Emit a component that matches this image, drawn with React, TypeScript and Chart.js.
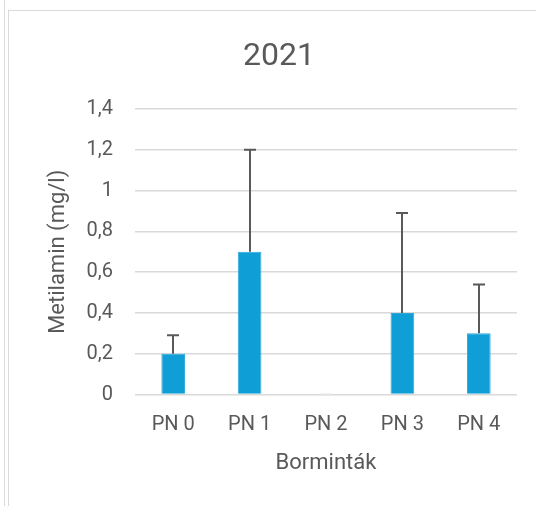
import React, { useEffect, useRef } from "react";
import { Chart, registerables } from "chart.js";

Chart.register(...registerables);

const categories = ["PN 0", "PN 1", "PN 2", "PN 3", "PN 4"];
const values = [0.2, 0.7, 0, 0.4, 0.3];
const errorPlus = [0.09, 0.5, 0, 0.49, 0.24];
const chartTitle = "2021";
const yTitle = "Metilamin (mg/l)";
const xTitle = "Borminták";

const FONT = "Roboto, 'Open Sans', sans-serif";
const TEXT = "#595959";

const errorBarPlugin = {
  id: "errorBars",
  afterDatasetsDraw(chart: any) {
    const meta = chart.getDatasetMeta(0);
    const yScale = chart.scales.y;
    const ctx = chart.ctx;
    ctx.save();
    ctx.lineWidth = 2;
    meta.data.forEach((bar: any, i: number) => {
      const x = Math.round(bar.x);
      const y0 = yScale.getPixelForValue(values[i]);
      const y1 = yScale.getPixelForValue(values[i] + errorPlus[i]);
      ctx.strokeStyle = errorPlus[i] > 0 ? "#595959" : "#e4e4e4";
      ctx.beginPath();
      ctx.moveTo(x, y0);
      ctx.lineTo(x, y1);
      ctx.moveTo(x - 6, y1);
      ctx.lineTo(x + 6, y1);
      ctx.stroke();
    });
    ctx.restore();
  },
};

export default function App() {
  const ref = useRef<HTMLCanvasElement | null>(null);
  useEffect(() => {
    if (!ref.current) return;
    const chart = new Chart(ref.current, {
      type: "bar",
      data: {
        labels: categories,
        datasets: [
          {
            data: values,
            backgroundColor: "#0F9ED5",
            borderColor: "#2BA8DC",
            borderWidth: 1,
            categoryPercentage: 1,
            barPercentage: 0.31,
          },
        ],
      },
      options: {
        animation: false,
        responsive: false,
        layout: { padding: { left: 41, right: 19, top: 38, bottom: 25 } },
        plugins: {
          legend: { display: false },
          tooltip: { enabled: false },
          title: {
            display: true,
            text: chartTitle,
            color: TEXT,
            font: { family: FONT, size: 32, weight: "normal" },
            padding: { top: 0, bottom: 32.6 },
          },
        },
        scales: {
          x: {
            grid: { display: false, drawTicks: false },
            border: { display: false },
            ticks: {
              color: TEXT,
              font: { family: FONT, size: 20 },
              padding: 18,
            },
            title: {
              display: true,
              text: xTitle,
              color: TEXT,
              font: { family: FONT, size: 22 },
              padding: { top: 4, bottom: 4 },
            },
            afterFit: (s: any) => {
              s.height = 86.5;
            },
          },
          y: {
            min: 0,
            max: 1.4,
            grid: { color: "#d9d9d9", lineWidth: 1.5, drawTicks: false },
            border: { display: false },
            ticks: {
              stepSize: 0.2,
              color: TEXT,
              font: { family: FONT, size: 20 },
              padding: 22,
              callback: (v: any) => {
                const n = Math.round(Number(v) * 10) / 10;
                return String(n).replace(".", ",");
              },
            },
            title: {
              display: true,
              text: yTitle,
              color: TEXT,
              font: { family: FONT, size: 22 },
              padding: { top: 4, bottom: 4 },
            },
            afterFit: (s: any) => {
              s.width = 94;
            },
          },
        },
      },
      plugins: [errorBarPlugin],
    });
    return () => chart.destroy();
  }, []);

  return (
    <div style={{ position: "fixed", left: 0, top: 0, width: 536, height: 506, background: "#fff" }}>
      <div style={{ position: "absolute", left: 4, top: 0, width: 1, height: 506, background: "#d9d9d9" }} />
      <div style={{ position: "absolute", left: 8, top: 10, width: 1, height: 496, background: "#d9d9d9" }} />
      <div style={{ position: "absolute", left: 8, top: 10, width: 528, height: 1, background: "#d9d9d9" }} />
      <canvas ref={ref} width={536} height={506} style={{ position: "absolute", left: 0, top: 0 }} />
    </div>
  );
}
